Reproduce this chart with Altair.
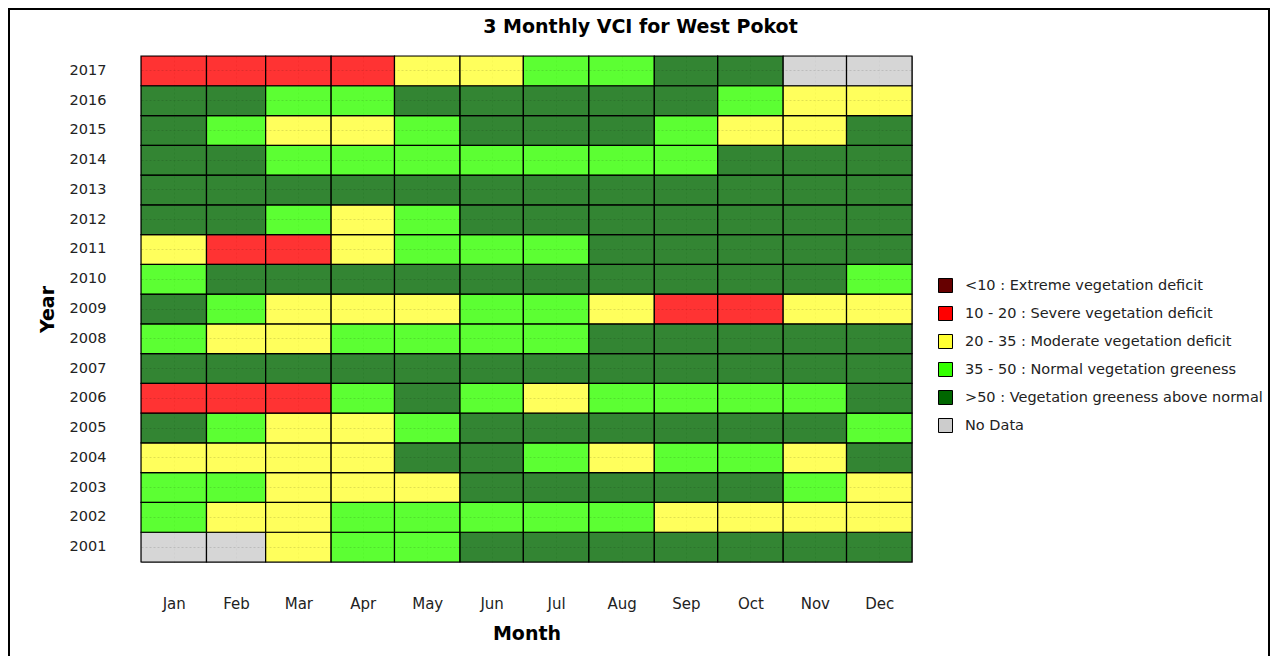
import altair as alt
import pandas as pd

months = ["Jan", "Feb", "Mar", "Apr", "May", "Jun", "Jul", "Aug", "Sep", "Oct", "Nov", "Dec"]
days_in_month = [31, 28, 31, 30, 31, 30, 31, 31, 30, 31, 30, 31]

classes = [
    "<10 : Extreme vegetation deficit",
    "10 - 20 : Severe vegetation deficit",
    "20 - 35 : Moderate vegetation deficit",
    "35 - 50 : Normal vegetation greeness",
    ">50 : Vegetation greeness above normal",
    "No Data",
]
class_codes = ["E", "R", "Y", "G", "D", "N"]
class_colors = ["#660000", "#FF0000", "#FFFF33", "#33FF00", "#006600", "#CCCCCC"]

# VCI class per month (Jan..Dec) for each year
vci_2017 = ["R", "R", "R", "R", "Y", "Y", "G", "G", "D", "D", "N", "N"]
vci_2016 = ["D", "D", "G", "G", "D", "D", "D", "D", "D", "G", "Y", "Y"]
vci_2015 = ["D", "G", "Y", "Y", "G", "D", "D", "D", "G", "Y", "Y", "D"]
vci_2014 = ["D", "D", "G", "G", "G", "G", "G", "G", "G", "D", "D", "D"]
vci_2013 = ["D", "D", "D", "D", "D", "D", "D", "D", "D", "D", "D", "D"]
vci_2012 = ["D", "D", "G", "Y", "G", "D", "D", "D", "D", "D", "D", "D"]
vci_2011 = ["Y", "R", "R", "Y", "G", "G", "G", "D", "D", "D", "D", "D"]
vci_2010 = ["G", "D", "D", "D", "D", "D", "D", "D", "D", "D", "D", "G"]
vci_2009 = ["D", "G", "Y", "Y", "Y", "G", "G", "Y", "R", "R", "Y", "Y"]
vci_2008 = ["G", "Y", "Y", "G", "G", "G", "G", "D", "D", "D", "D", "D"]
vci_2007 = ["D", "D", "D", "D", "D", "D", "D", "D", "D", "D", "D", "D"]
vci_2006 = ["R", "R", "R", "G", "D", "G", "Y", "G", "G", "G", "G", "D"]
vci_2005 = ["D", "G", "Y", "Y", "G", "D", "D", "D", "D", "D", "D", "G"]
vci_2004 = ["Y", "Y", "Y", "Y", "D", "D", "G", "Y", "G", "G", "Y", "D"]
vci_2003 = ["G", "G", "Y", "Y", "Y", "D", "D", "D", "D", "D", "G", "Y"]
vci_2002 = ["G", "Y", "Y", "G", "G", "G", "G", "G", "Y", "Y", "Y", "Y"]
vci_2001 = ["N", "N", "Y", "G", "G", "D", "D", "D", "D", "D", "D", "D"]

years = list(range(2001, 2018))
year_rows = [vci_2001, vci_2002, vci_2003, vci_2004, vci_2005, vci_2006, vci_2007,
             vci_2008, vci_2009, vci_2010, vci_2011, vci_2012, vci_2013, vci_2014,
             vci_2015, vci_2016, vci_2017]

code_to_class = dict(zip(class_codes, classes))
starts = []
acc = 0
for d in days_in_month:
    starts.append(acc)
    acc += d
ends = [s + d for s, d in zip(starts, days_in_month)]
mids = [(s + e) / 2 for s, e in zip(starts, ends)]

records = []
for yr, row in zip(years, year_rows):
    for m, code in enumerate(row):
        records.append({
            "year": str(yr),
            "month": months[m],
            "start": starts[m],
            "end": ends[m],
            "cls": code_to_class[code],
        })
df = pd.DataFrame(records)

FONT = "DejaVu Sans"
label_expr = f"{months}[indexof({mids}, datum.value)]"

heat = alt.Chart(df).mark_rect(fillOpacity=0.8, stroke="black", strokeWidth=1.2).encode(
    x=alt.X("start:Q",
            scale=alt.Scale(domain=[0, acc], nice=False, zero=False),
            axis=alt.Axis(values=mids, labelExpr=label_expr, title="Month",
                          ticks=False, domain=False, grid=True,
                          gridColor="#000000", gridOpacity=0.12, gridDash=[2, 2], gridWidth=1,
                          labelFont=FONT, labelFontSize=15, labelColor="#222222",
                          labelPadding=34, titleFont=FONT, titleFontSize=19,
                          titleFontWeight="bold", titleColor="black", titlePadding=13)),
    x2="end:Q",
    y=alt.Y("year:O", sort="descending",
            scale=alt.Scale(paddingInner=0, paddingOuter=0),
            axis=alt.Axis(title="Year", ticks=False, domain=False, grid=True,
                          bandPosition=0.5, gridColor="#000000", gridOpacity=0.12,
                          gridDash=[2, 2],
                          labelFont=FONT, labelFontSize=14.5, labelColor="#222222",
                          labelPadding=35, titleFont=FONT, titleFontSize=19,
                          titleFontWeight="bold", titleColor="black", titlePadding=12)),
    color=alt.Color("cls:N",
                    scale=alt.Scale(domain=classes, range=class_colors),
                    legend=alt.Legend(orient="none", legendX=797, legendY=222, title=None,
                                      symbolType="square", symbolSize=196,
                                      symbolStrokeColor="black", symbolStrokeWidth=1,
                                      symbolOpacity=1, labelFont=FONT, labelFontSize=14.5,
                                      labelColor="#222222", labelOffset=12, rowPadding=9,
                                      padding=0, labelLimit=500)),
)

frame = alt.Chart(alt.Data(values=[{"a": 1}])).mark_rect(
    fill="white", fillOpacity=0, stroke="black", strokeWidth=2
).encode(
    x=alt.value(-132), x2=alt.value(1128), y=alt.value(-47), y2=alt.value(700)
)

chart = alt.layer(frame, heat).properties(
    width=771,
    height=506,
    padding={"left": 133, "top": 48, "right": 358, "bottom": 94},
    autosize=alt.AutoSizeParams(type="none"),
    title=alt.TitleParams("3 Monthly VCI for West Pokot", font=FONT, fontSize=19,
                          fontWeight="bold", color="black", anchor="middle",
                          frame="group", dx=114, offset=-29),
    background="white",
).configure_view(stroke="#808080", strokeWidth=1)

chart.save("out.html", embed_options={"renderer": "svg", "actions": False})
